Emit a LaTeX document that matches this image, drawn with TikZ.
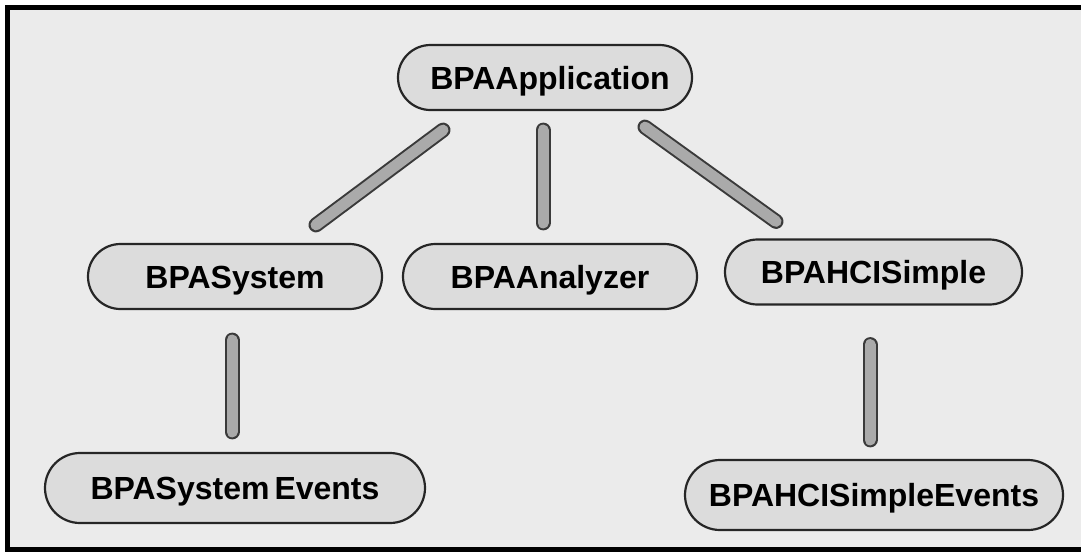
\documentclass[tikz,border=0pt]{standalone}
\usepackage{fontspec}
\setmainfont{Liberation Sans}
\usetikzlibrary{calc}
\definecolor{bgc}{HTML}{EBEBEB}
\definecolor{nodefill}{HTML}{DCDCDC}
\definecolor{nodeline}{HTML}{262626}
\definecolor{barfill}{HTML}{AAAAAA}
\definecolor{barline}{HTML}{3A3A3A}
\begin{document}
\begin{tikzpicture}[x=1pt,y=-1pt,
  pill/.style={draw=nodeline, line width=2.2pt, fill=nodefill, rounded corners=32.5pt,
    minimum height=65pt, inner sep=0pt, text height=23pt, text depth=0pt,
    font=\fontsize{32}{32}\selectfont\bfseries},
  bar/.style={draw=barline, line width=15pt, line cap=round,
    postaction={draw=barfill, line width=11pt, line cap=round}}]
\useasboundingbox (0,0) rectangle (1081,552);
\fill[white] (0,0) rectangle (1081,552);
\fill[bgc] (7.5,7.5) rectangle (1090,549.5);
\draw[line width=5pt] (1090,7.5) -- (7.5,7.5) -- (7.5,549.5) -- (1090,549.5);

\node[pill, minimum width=294pt] (app) at (545,77.5) {\hspace{10pt}BPAApplication};
\node[pill, minimum width=294pt] (sys) at (235,276.5) {BPASystem};
\node[pill, minimum width=294pt] (ana) at (550,276.5) {BPAAnalyzer};
\node[pill, minimum width=297pt] (hci) at (873.5,272) {BPAHCISimple};
\node[pill, minimum width=380pt, minimum height=70pt, rounded corners=35pt] (sysev) at (235,488) {BPASystem\hspace{5pt}Events};
\node[pill, minimum width=378pt, minimum height=70pt, rounded corners=35pt] (hciev) at (874,495) {BPAHCISimpleEvents};

\coordinate (b1a) at ($(app.south)+(-102,19)$);
\coordinate (b1b) at ($(sys.north)+(81,-18)$);
\coordinate (b2a) at ($(app.south)+(-2,19)$);
\coordinate (b2b) at ($(ana.north)+(-7,-20)$);
\coordinate (b3a) at ($(app.south)+(100,16)$);
\coordinate (b3b) at ($(hci.north)+(-97.5,-17)$);
\coordinate (b4a) at ($(sys.south)+(-3,30)$);
\coordinate (b4b) at ($(sysev.north)+(-3,-20)$);
\coordinate (b5a) at ($(hci.south)+(-3.5,39)$);
\coordinate (b5b) at ($(hciev.north)+(-4,-19)$);

\draw[bar] (b1a) -- (b1b);
\draw[bar] (b2a) -- (b2b);
\draw[bar] (b3a) -- (b3b);
\draw[bar] (b4a) -- (b4b);
\draw[bar] (b5a) -- (b5b);
\end{tikzpicture}
\end{document}
